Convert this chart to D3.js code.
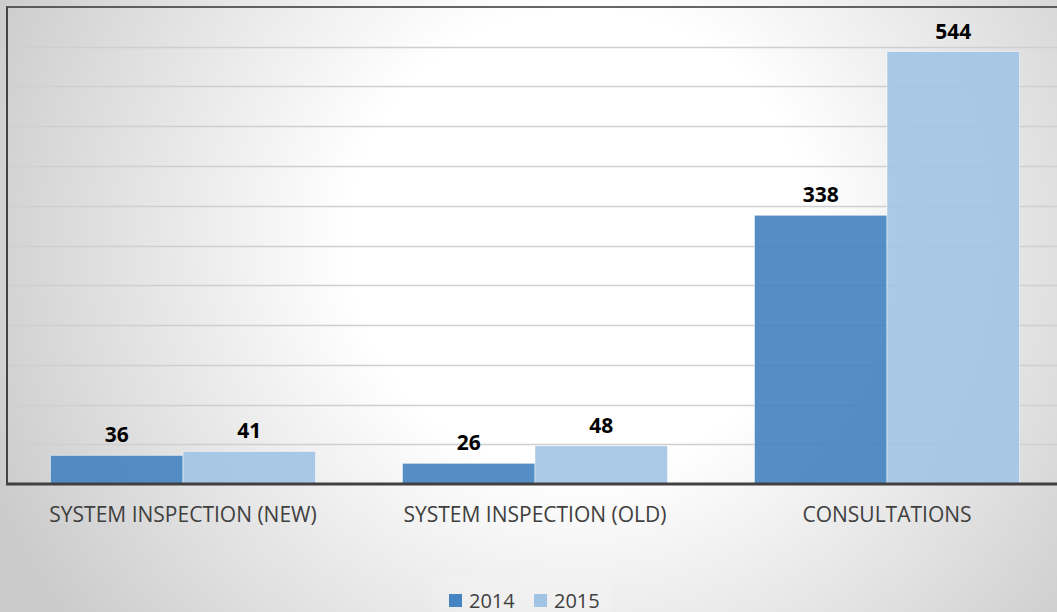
<!DOCTYPE html>
<html>
<head>
<meta charset="utf-8">
<script src="https://cdn.jsdelivr.net/npm/d3@7"></script>
<style>
  body { margin: 0; }
  svg { display: block; font-family: 'Open Sans', sans-serif; }
</style>
</head>
<body>
<svg id="chart"></svg>
<script>
var categories = ['SYSTEM INSPECTION (NEW)', 'SYSTEM INSPECTION (OLD)', 'CONSULTATIONS']
var seriesNames = ['2014', '2015']
var values2014 = [36, 26, 338]
var values2015 = [41, 48, 544]
var yTicks = d3.range(0, 601, 50)
var colors = ['#4584c0', '#a2c4e4']

var width = 1057, height = 612
var svg = d3.select('#chart').attr('width', width).attr('height', height)

// background gradient
var defs = svg.append('defs')
var grad = defs.append('radialGradient').attr('id', 'bg')
    .attr('gradientUnits', 'userSpaceOnUse')
    .attr('cx', 580).attr('cy', 240).attr('r', 640)
grad.append('stop').attr('offset', '0%').attr('stop-color', '#ffffff')
grad.append('stop').attr('offset', '36%').attr('stop-color', '#ffffff')
grad.append('stop').attr('offset', '100%').attr('stop-color', '#cbcbcb')

svg.append('rect').attr('width', width).attr('height', height).attr('fill', 'url(#bg)')

var x0 = d3.scaleBand().domain(categories).range([7, 1063])
    .paddingInner(0.247).paddingOuter(0.1235)
var x1 = d3.scaleBand().domain(seriesNames).range([0, x0.bandwidth()])
var y = d3.scaleLinear().domain([0, 600]).range([484, 7])
var color = d3.scaleOrdinal().domain(seriesNames).range(colors)

// gridlines
svg.append('g').selectAll('line').data(yTicks.slice(1, -1)).join('line')
    .attr('x1', 7).attr('x2', width)
    .attr('y1', d => Math.round(y(d)) + 0.5).attr('y2', d => Math.round(y(d)) + 0.5)
    .attr('stroke', '#cfcfcf').attr('stroke-width', 1.3)

// plot border top / left
svg.append('line').attr('x1', 6).attr('x2', width).attr('y1', y(600)).attr('y2', y(600))
    .attr('stroke', '#333').attr('stroke-width', 1.5)
svg.append('line').attr('x1', 7).attr('x2', 7).attr('y1', y(600)).attr('y2', y(0))
    .attr('stroke', '#444').attr('stroke-width', 2)

var rows = categories.map((c, i) => ({cat: c, vals: [
    {key: '2014', value: values2014[i]},
    {key: '2015', value: values2015[i]}
]}))

var groups = svg.append('g').selectAll('g').data(rows).join('g')
    .attr('transform', d => 'translate(' + x0(d.cat) + ',0)')

groups.selectAll('rect').data(d => d.vals).join('rect')
    .attr('x', d => x1(d.key))
    .attr('y', d => y(d.value))
    .attr('width', x1.bandwidth())
    .attr('height', d => y(0) - y(d.value))
    .attr('fill', d => color(d.key))
    .attr('fill-opacity', 0.92)
    .attr('stroke', '#ffffff').attr('stroke-opacity', 0.5).attr('stroke-width', 1)

groups.selectAll('text').data(d => d.vals).join('text')
    .attr('x', d => x1(d.key) + x1.bandwidth() / 2)
    .attr('y', d => y(d.value) - 13)
    .attr('text-anchor', 'middle')
    .attr('font-size', 21).attr('font-weight', 'bold').attr('fill', '#000')
    .text(d => d.value)

// baseline
svg.append('line').attr('x1', 6).attr('x2', width).attr('y1', y(0)).attr('y2', y(0))
    .attr('stroke', '#404040').attr('stroke-width', 3)

// category axis
var xAxis = svg.append('g').attr('transform', 'translate(0,' + y(0) + ')')
    .call(d3.axisBottom(x0).tickSize(0).tickPadding(23))
xAxis.select('.domain').remove()
xAxis.selectAll('text').attr('font-size', 21).attr('fill', '#404040')
    .attr('font-family', "'Open Sans', sans-serif").attr('dy', '0.71em')

// legend
var legend = svg.append('g')
legend.append('rect').attr('x', 431).attr('y', 577).attr('width', 180).attr('height', 35)
    .attr('fill', '#ffffff').attr('fill-opacity', 0.12)
var items = legend.selectAll('g').data(seriesNames).join('g')
    .attr('transform', (d, i) => 'translate(' + (449 + i * 85) + ',594)')
items.append('rect').attr('width', 13).attr('height', 13).attr('fill', d => color(d))
items.append('text').attr('x', 20).attr('y', 13.5)
    .attr('font-size', 20).attr('fill', '#404040').text(d => d)
</script>
</body>
</html>
